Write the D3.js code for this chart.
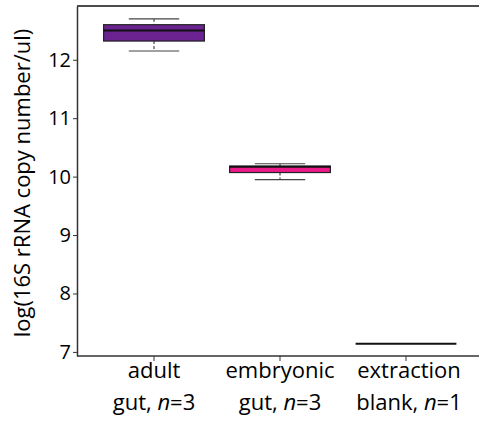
<!DOCTYPE html>
<html>
<head>
<meta charset="utf-8">
<script src="https://cdn.jsdelivr.net/npm/d3@7"></script>
<style>
  body { margin: 0; background: #fff; }
  svg text { font-family: "Open Sans", "Noto Sans", sans-serif; fill: #000; }
</style>
</head>
<body>
<div id="chart"></div>
<script>
// data
const groups = ["adult", "embryonic", "extraction"]
const labelTop = ["adult", "embryonic", "extraction"]
const labelBottom = ["gut, ", "gut, ", "blank, "]
const labelN = ["3", "3", "1"]
const whiskerLow = [12.15, 9.95, 7.14]
const q1 = [12.32, 10.07, 7.14]
const median = [12.50, 10.17, 7.14]
const q3 = [12.60, 10.18, 7.14]
const whiskerHigh = [12.70, 10.22, 7.14]
const boxColors = ["#6a2391", "#ec198b", "#000000"]
const yTicks = [7, 8, 9, 10, 11, 12]

const W = 479, H = 421
const margin = {top: 6, right: 0, bottom: 65, left: 77}

const svg = d3.select("#chart").append("svg")
  .attr("width", W).attr("height", H)

const y = d3.scaleLinear().domain([6.93, 12.92]).range([H - margin.bottom, margin.top])
const x = d3.scaleBand().domain(groups).range([91, 469]).padding(0)
const cx = d => x(d) + x.bandwidth() / 2
const boxW = x.bandwidth() * 0.8
const capW = x.bandwidth() * 0.4

const boxes = groups.map((g, i) => ({
  g: g, lo: whiskerLow[i], q1: q1[i], med: median[i], q3: q3[i], hi: whiskerHigh[i], color: boxColors[i]
}))

// top frame line
svg.append("line")
  .attr("x1", margin.left).attr("x2", W)
  .attr("y1", margin.top).attr("y2", margin.top)
  .attr("stroke", "#111").attr("stroke-width", 1.5)

// y axis
const yAxis = svg.append("g")
  .attr("transform", "translate(" + margin.left + ",0)")
  .call(d3.axisLeft(y).tickValues(yTicks).tickFormat(d3.format("d")).tickSize(4).tickPadding(2).tickSizeOuter(0))
yAxis.select(".domain").attr("stroke", "#333").attr("stroke-width", 1.5)
yAxis.selectAll(".tick line").attr("stroke", "#333")
yAxis.selectAll("text").style("font-size", "20px")

// x axis
const xAxis = svg.append("g")
  .attr("transform", "translate(0," + (H - margin.bottom) + ")")
  .call(d3.axisBottom(x).tickSize(5).tickSizeOuter(0).tickFormat(""))
xAxis.select(".domain").attr("d", "M" + margin.left + ",0H" + W).attr("stroke", "#333").attr("stroke-width", 1.5)
xAxis.selectAll(".tick line").attr("stroke", "#333")

// category labels
const lab = svg.append("g")
groups.forEach((g, i) => {
  lab.append("text")
    .attr("x", cx(g) + (i == 2 ? 3 : 0)).attr("y", 378)
    .attr("text-anchor", "middle")
    .style("font-size", "22px")
    .text(labelTop[i])
  const t = lab.append("text")
    .attr("x", cx(g) + (i == 2 ? 3 : 0)).attr("y", 410)
    .attr("text-anchor", "middle")
    .style("font-size", "22px")
  t.append("tspan").text(labelBottom[i])
  t.append("tspan").style("font-style", "italic").text("n")
  t.append("tspan").text("=" + labelN[i])
})

// y label
svg.append("text")
  .attr("transform", "translate(30,183) rotate(-90)")
  .attr("text-anchor", "middle")
  .style("font-size", "22px")
  .text("log(16S rRNA copy number/ul)")

// boxplots
const bg = svg.append("g").selectAll("g").data(boxes).join("g")

// whiskers (dashed)
bg.filter(d => d.hi > d.lo).append("line")
  .attr("x1", d => cx(d.g)).attr("x2", d => cx(d.g))
  .attr("y1", d => y(d.hi)).attr("y2", d => y(d.q3))
  .attr("stroke", "#222").attr("stroke-dasharray", "3,2")
bg.filter(d => d.hi > d.lo).append("line")
  .attr("x1", d => cx(d.g)).attr("x2", d => cx(d.g))
  .attr("y1", d => y(d.q1)).attr("y2", d => y(d.lo))
  .attr("stroke", "#222").attr("stroke-dasharray", "3,2")

// caps
bg.filter(d => d.hi > d.lo).selectAll(".cap").data(d => [[d.g, d.hi], [d.g, d.lo]]).join("line")
  .attr("class", "cap")
  .attr("x1", d => cx(d[0]) - capW / 2).attr("x2", d => cx(d[0]) + capW / 2)
  .attr("y1", d => y(d[1])).attr("y2", d => y(d[1]))
  .attr("stroke", "#444").attr("stroke-width", 1.2)

// box
bg.filter(d => d.q3 > d.q1).append("rect")
  .attr("x", d => cx(d.g) - boxW / 2)
  .attr("width", boxW)
  .attr("y", d => y(d.q3))
  .attr("height", d => y(d.q1) - y(d.q3))
  .attr("fill", d => d.color)
  .attr("stroke", "#222").attr("stroke-width", 1.2)

// median
bg.append("line")
  .attr("x1", d => cx(d.g) - boxW / 2).attr("x2", d => cx(d.g) + boxW / 2)
  .attr("y1", d => y(d.med)).attr("y2", d => y(d.med))
  .attr("stroke", "#111").attr("stroke-width", 2)
</script>
</body>
</html>
